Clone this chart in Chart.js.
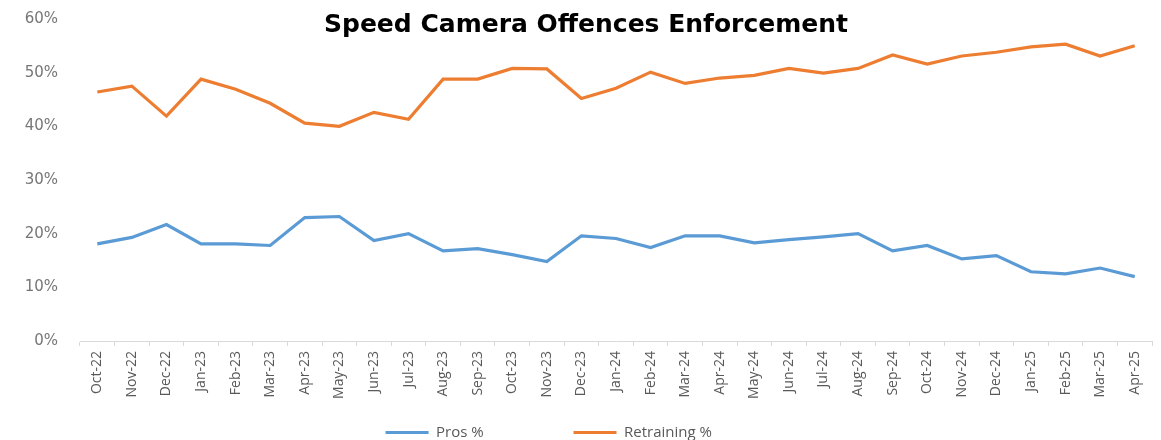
<!DOCTYPE html>
<html>
<head>
<meta charset="utf-8">
<script src="https://cdn.jsdelivr.net/npm/chart.js@4/dist/chart.umd.min.js"></script>
<style>
  html, body { margin: 0; padding: 0; background: #fff; }
  #wrap { position: relative; width: 1161px; height: 440px; }
  #title { position: absolute; left: 0; width: 1161px; top: 9px; text-align: center;
           font-family: "DejaVu Sans", Verdana, sans-serif; font-weight: bold; font-size: 25px;
           line-height: 29px; color: #000; padding-left: 11px; box-sizing: border-box; }
</style>
</head>
<body>
<div id="wrap">
  <canvas id="c" width="1161" height="440"></canvas>
  <div id="title">Speed Camera Offences Enforcement</div>
</div>
<script>
const categories = ["Oct-22","Nov-22","Dec-22","Jan-23","Feb-23","Mar-23","Apr-23","May-23","Jun-23","Jul-23","Aug-23","Sep-23","Oct-23","Nov-23","Dec-23","Jan-24","Feb-24","Mar-24","Apr-24","May-24","Jun-24","Jul-24","Aug-24","Sep-24","Oct-24","Nov-24","Dec-24","Jan-25","Feb-25","Mar-25","Apr-25"];
const prosPct = [18.1,19.3,21.7,18.1,18.1,17.8,23.0,23.2,18.7,20.0,16.8,17.2,16.1,14.8,19.6,19.1,17.4,19.6,19.6,18.3,18.9,19.4,20.0,16.8,17.8,15.3,15.9,12.9,12.5,13.6,12.0];
const retrainingPct = [46.4,47.5,41.9,48.8,46.9,44.3,40.6,40.0,42.6,41.3,48.8,48.8,50.8,50.7,45.2,47.1,50.1,48.0,49.0,49.5,50.8,49.9,50.8,53.3,51.6,53.1,53.8,54.8,55.3,53.1,55.0];
const yTicks = [0,10,20,30,40,50,60];
const seriesNames = ['Pros %', 'Retraining %'];

// extra trailing gap (in spaces) after each legend entry, to mimic the wide legend spacing
const legendGap = [21, 14];

new Chart(document.getElementById('c'), {
  type: 'line',
  data: {
    labels: categories,
    datasets: [
      { label: seriesNames[0], data: prosPct, borderColor: '#5b9bd5', backgroundColor: '#5b9bd5',
        borderWidth: 3.2, pointRadius: 0, tension: 0 },
      { label: seriesNames[1], data: retrainingPct, borderColor: '#ed7d31', backgroundColor: '#ed7d31',
        borderWidth: 3.2, pointRadius: 0, tension: 0 }
    ]
  },
  options: {
    responsive: false,
    animation: false,
    layout: { padding: { top: 19, right: 9, left: 0, bottom: -10 } },
    plugins: {
      title: { display: false },
      tooltip: { enabled: false },
      legend: {
        position: 'bottom',
        labels: {
          boxWidth: 43, boxHeight: 3, padding: 8,
          color: '#595959',
          font: { family: '"Open Sans", sans-serif', size: 15 },
          generateLabels: (chart) => {
            const items = Chart.defaults.plugins.legend.labels.generateLabels(chart);
            items.forEach((it, i) => { it.text = it.text + ' '.repeat(legendGap[i]); it.lineWidth = 0; });
            return items;
          }
        }
      }
    },
    scales: {
      x: {
        offset: true,
        grid: { display: true, drawOnChartArea: false, offset: true, tickLength: 5, color: '#d9d9d9' },
        border: { display: true, color: '#d9d9d9' },
        ticks: { color: '#595959', maxRotation: 90, minRotation: 90, autoSkip: false, padding: 5,
                 font: { family: '"Open Sans", sans-serif', size: 14 } },
        afterFit: (s) => { s.height = 76; }
      },
      y: {
        min: 0, max: 60,
        afterBuildTicks: (s) => { s.ticks = yTicks.map(v => ({ value: v })); },
        grid: { display: false },
        border: { display: false },
        ticks: { color: '#767676', padding: 14,
                 font: { family: '"DejaVu Sans", Verdana, sans-serif', size: 15 },
                 callback: (v) => v + '%' },
        afterFit: (s) => { s.width = 80; s.paddingTop = 0; s.paddingBottom = 0; }
      }
    }
  }
});
</script>
</body>
</html>
